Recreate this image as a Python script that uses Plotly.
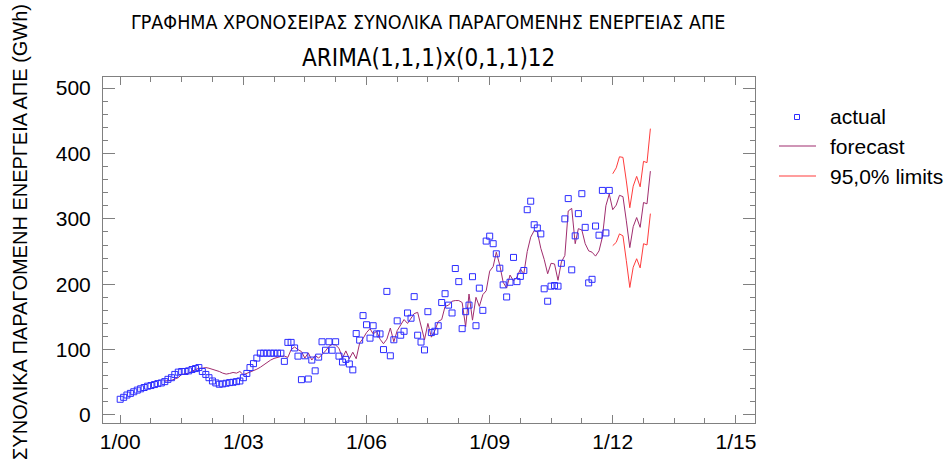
import pandas as pd
import plotly.graph_objects as go

# Monthly renewable-energy production (GWh), Jan 2000 - Dec 2011
actual = [
    24, 27, 30.5, 33, 35.5, 38, 40, 42, 44, 45, 46.5, 48,
    49, 51, 54.5, 57, 62, 65.5, 66.5, 66.5, 67.5, 69.5, 71, 72.5,
    66.5, 62, 57, 52, 49, 47, 47.5, 48.5, 49.5, 50, 51, 52,
    57, 63.5, 72.5, 78.5, 87, 94.5, 94.5, 94.5, 94.5, 94.5, 94.5, 94.5,
    82, 111, 111, 102.5, 90, 54, 90.5, 55, 84, 67.5, 88.5, 112,
    99, 112, 99, 112, 90, 81, 85, 78, 69, 124.5, 114.5, 152,
    138, 117.5, 136.5, 124, 124, 100, 189, 90.5, 115, 144, 122, 128,
    156, 148, 181, 122, 111.5, 99.5, 158, 126, 128, 136.5, 172, 185.5,
    168, 156, 224, 204, 132, 158, 168, 211.5, 136.5, 194, 160, 266,
    273.5, 262, 246.5, 224.5, 199, 180.5, 203, 241, 204, 212, 221, 314,
    327, 291, 286, 277, 193, 174, 197, 198, 197, 232, 300, 331,
    222, 274, 308, 338.5, 287, 202, 207.5, 289, 275, 343.5, 278.5, 343.5,
]

# One-step-ahead fitted values of the model, Feb 2001 - Dec 2011
fitted = [
    52, 52, 53, 55, 57, 62, 62.5, 64, 67, 69, 71.5,
    71.5, 72.5, 71.5, 70, 67.5, 66.5, 64, 62.5, 63.5, 65, 64, 66.5,
    61.5, 63.5, 66, 68, 70, 73, 77, 81, 84, 86.5, 88.5, 89.5,
    90, 88, 100, 104, 100, 97, 87, 95, 84, 91, 87, 92,
    98, 105, 108, 107, 102, 87, 98, 86, 96, 86, 110, 117,
    126, 132, 124, 128, 116, 109, 116, 133, 112, 129, 138, 146,
    140, 149, 155, 157, 138, 115, 140, 119, 129, 143, 146, 166,
    168, 174, 175, 175, 172, 135, 185, 145, 180, 166, 184, 190,
    220, 227, 249, 229, 203, 194, 214, 205, 211, 223, 216, 250,
    272, 282, 280, 255, 238, 216, 232, 231, 206, 234, 244, 312,
    316, 262, 285, 283, 262, 251, 249, 243, 251, 272, 320, 338,
]

# Forecasts for 2012 with 95% limits
forecast = [314, 321, 336, 334, 297, 256, 288, 302, 287, 325, 323, 373]
lower = [259, 264, 277, 274, 236, 195, 226, 239, 225, 262, 260, 308]
upper = [369, 378, 395, 394, 358, 317, 350, 365, 349, 388, 386, 438]

actual_dates = pd.date_range("2000-01-01", periods=len(actual), freq="MS")
fitted_dates = actual_dates[len(actual) - len(fitted):]
forecast_dates = pd.date_range("2012-01-01", periods=len(forecast), freq="MS")

line_dates = list(fitted_dates) + list(forecast_dates)
line_vals = fitted + forecast

BLUE = "rgb(45,45,255)"
PURPLE = "rgb(160,45,110)"
RED = "rgb(255,60,60)"
GRID = "#808080"
FONT = "Liberation Sans, Arial, sans-serif"
NARROW = "Liberation Sans Narrow, Arial Narrow, DejaVu Sans Condensed, sans-serif"

fig = go.Figure()
fig.add_trace(go.Scatter(
    x=line_dates, y=line_vals, mode="lines", name="forecast",
    line=dict(color=PURPLE, width=1), showlegend=False,
))
fig.add_trace(go.Scatter(
    x=forecast_dates, y=upper, mode="lines", name="95,0% limits",
    line=dict(color=RED, width=1), showlegend=False,
))
fig.add_trace(go.Scatter(
    x=forecast_dates, y=lower, mode="lines", name="95,0% limits",
    line=dict(color=RED, width=1), showlegend=False,
))
fig.add_trace(go.Scatter(
    x=actual_dates, y=actual, mode="markers", name="actual",
    marker=dict(symbol="square-open", size=6, color=BLUE, line=dict(width=1, color=BLUE)),
    showlegend=False,
))

W, H = 948, 464
L, R, T, B = 103, 755, 77, 423
pw, ph = R - L, B - T


def px(xp):
    return (xp - L) / pw


def py(yp):
    return 1 - (yp - T) / ph


axis_common = dict(
    showline=True, linecolor=GRID, linewidth=1, mirror="ticks",
    ticks="inside", tickcolor=GRID, showgrid=False, zeroline=False,
    tickfont=dict(family=FONT, size=21, color="black"),
)

fig.update_xaxes(
    type="date", range=["1999-08-01", "2015-06-20"],
    dtick="M36", tick0="2000-01-01", tickformat="%-m/%y", ticklen=8,
    minor=dict(dtick="M9", tick0="2000-01-01", ticks="inside", ticklen=5, tickcolor=GRID),
    **axis_common,
)
fig.update_yaxes(
    range=[-12.3, 517], dtick=100, tick0=0, ticklen=12, ticklabelstandoff=7,
    minor=dict(dtick=20, ticks="inside", ticklen=5, tickcolor=GRID),
    **axis_common,
)

annotations = [
    dict(text="ΓΡΑΦΗΜΑ ΧΡΟΝΟΣΕΙΡΑΣ ΣΥΝΟΛΙΚΑ ΠΑΡΑΓΟΜΕΝΗΣ ΕΝΕΡΓΕΙΑΣ ΑΠΕ",
         x=px(428), y=py(22), font=dict(family=NARROW, size=19.5, color="black")),
    dict(text="ARIMA(1,1,1)x(0,1,1)12",
         x=px(428), y=py(58), font=dict(family=NARROW, size=24, color="black")),
    dict(text="ΣΥΝΟΛΙΚΑ ΠΑΡΑΓΟΜΕΝΗ ΕΝΕΡΓΕΙΑ ΑΠΕ (GWh)", textangle=-90,
         x=px(20), y=py(232), font=dict(family=FONT, size=20, color="black")),
]
legend_rows = [("actual", 117), ("forecast", 146), ("95,0% limits", 176)]
for label, yy in legend_rows:
    annotations.append(dict(text=label, x=px(828), y=py(yy), xanchor="left",
                            font=dict(family=FONT, size=21, color="black")))
for a in annotations:
    a.setdefault("xanchor", "center")
    a.update(xref="paper", yref="paper", yanchor="middle", showarrow=False)

shapes = [
    dict(type="rect", x0=px(794.5), x1=px(799.5), y0=py(119.5), y1=py(114.5),
         line=dict(color=BLUE, width=1)),
    dict(type="line", x0=px(779), x1=px(816), y0=py(146), y1=py(146),
         line=dict(color=PURPLE, width=1.2)),
    dict(type="line", x0=px(779), x1=px(816), y0=py(176), y1=py(176),
         line=dict(color=RED, width=1.2)),
]
for s in shapes:
    s.update(xref="paper", yref="paper")

fig.update_layout(
    width=W, height=H,
    margin=dict(l=L, r=W - R, t=T, b=H - B, pad=0),
    paper_bgcolor="white", plot_bgcolor="white",
    showlegend=False,
    annotations=annotations, shapes=shapes,
)

fig.write_html("out.html")
